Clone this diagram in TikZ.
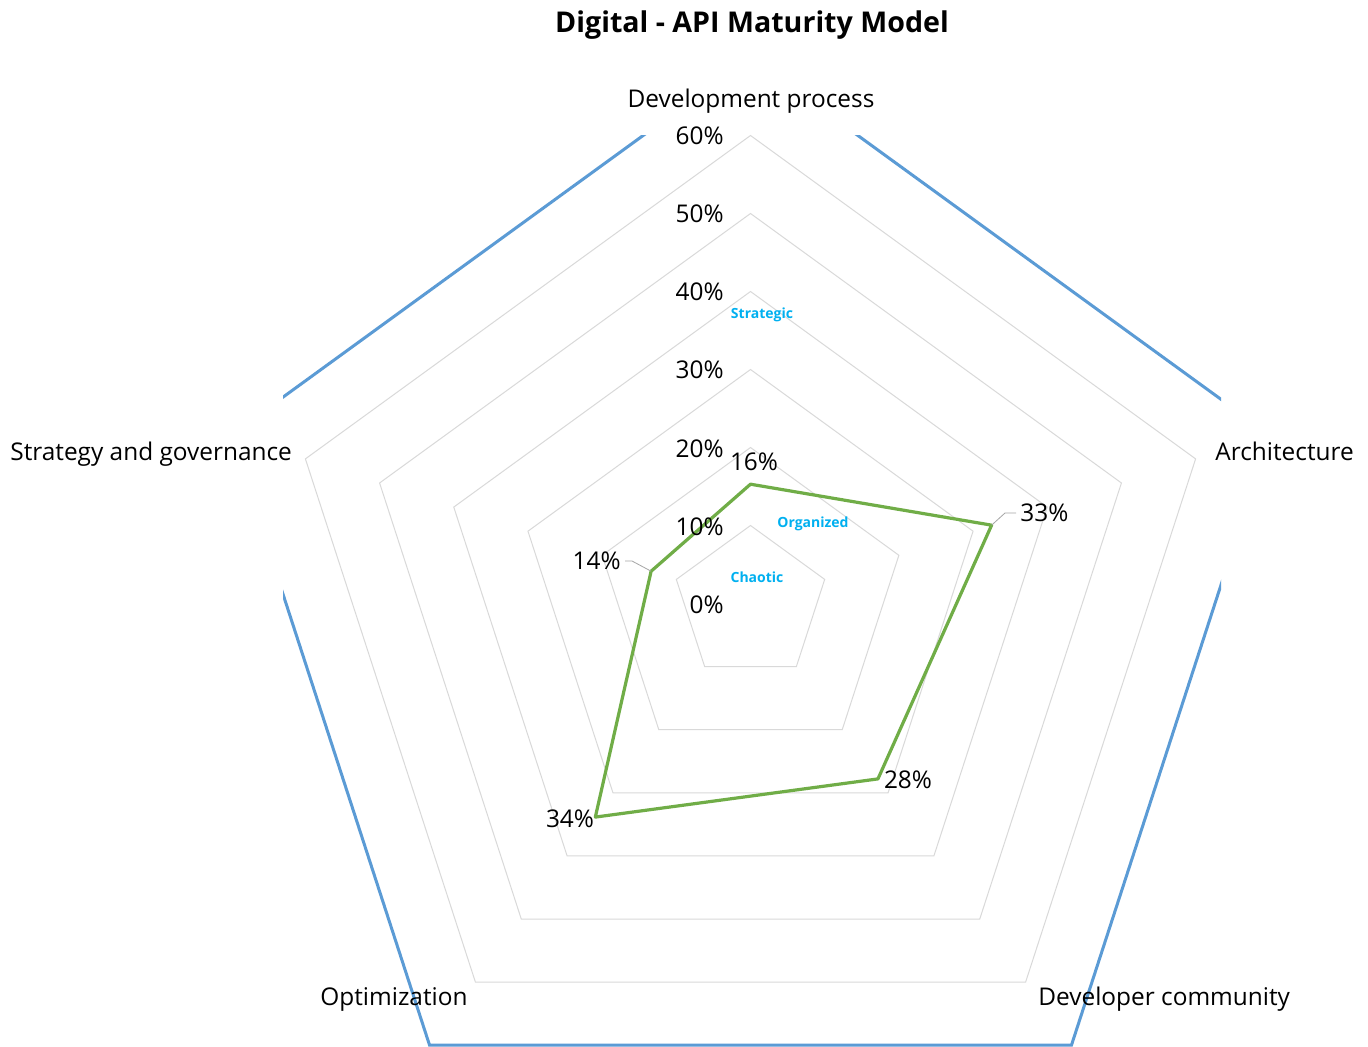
\documentclass[tikz,border=0pt]{standalone}
\usepackage{fontspec}
\setmainfont{Open Sans}
\definecolor{gridc}{HTML}{D9D9D9}
\definecolor{bluec}{HTML}{5B9BD5}
\definecolor{greenc}{HTML}{70AD47}
\definecolor{cyanc}{HTML}{00B0F0}
\definecolor{leadc}{HTML}{A6A6A6}
\tikzset{
  gridline/.style={draw=gridc, line width=0.5pt, line join=miter},
  levelline/.style={draw=bluec, line width=1.5pt, line join=miter},
  series/.style={draw=greenc, line width=1.6pt, line join=round},
  leader/.style={draw=leadc, line width=0.4pt},
  lbl/.style={inner sep=0pt, font=\fontsize{12.2}{14}\selectfont},
  ttl/.style={inner sep=0pt, font=\fontsize{14.3}{16}\selectfont\bfseries},
  lvl/.style={inner sep=0pt, text=cyanc, font=\fontsize{7}{8}\selectfont\bfseries},
}
\begin{document}
\begin{tikzpicture}[x=0.5pt,y=-0.5pt]
\useasboundingbox (0,0) rectangle (1368,1047);
\fill[white] (0,0) rectangle (1368,1047);
% grid pentagons
\begin{scope}[shift={(750.5,603.5)}]
\foreach \l in {1,...,6}{
  \draw[gridline] (-90:{\l*78}) -- (-18:{\l*78}) -- (54:{\l*78}) -- (126:{\l*78}) -- (198:{\l*78}) -- cycle;
}
\end{scope}
% level series (clipped by plot area)
\begin{scope}
\clip (283,136) rectangle (1221,1047);
\begin{scope}[shift={(750.5,603.5)}]
\draw[levelline] (-90:546) -- (-18:546) -- (54:546) -- (126:546) -- (198:546) -- cycle;
\end{scope}
\end{scope}
% data series
\begin{scope}[shift={(750.5,603.5)}]
\coordinate (dp) at (-90:119.3);
\coordinate (ar) at (-18:253.5);
\coordinate (dc) at (54:216.8);
\coordinate (op) at (126:264);
\coordinate (sg) at (198:104.5);
\end{scope}
\draw[series] (dp) -- (ar) -- (dc) -- (op) -- (sg) -- cycle;
% title and category labels
\node[ttl, anchor=base] (title) at (752,33) {Digital - API Maturity Model};
\node[lbl, anchor=base] (cdp) at (751,108) {Development process};
\node[lbl, anchor=base west] (car) at (1215,460.5) {Architecture};
\node[lbl, anchor=base west] (cdc) at (1038,1005.5) {Developer community};
\node[lbl, anchor=base west] (cop) at (320,1005.5) {Optimization};
\node[lbl, anchor=base west] (csg) at (10,460.5) {Strategy and governance};
% axis labels
\foreach \v/\yy in {60/145,50/223,40/301,30/379,20/457,10/535,0/613}{
  \node[lbl, anchor=base east] (ax\v) at (724,\yy) {\v\%};
}
% level labels
\node[lvl, anchor=base] (lstr) at (762,318.5) {Strategic};
\node[lvl, anchor=base] (lorg) at (813,527) {Organized};
\node[lvl, anchor=base] (lcha) at (757,582) {Chaotic};
% data labels
\node[lbl, anchor=base] (vdp) at (754,470.5) {16\%};
\node[lbl, anchor=base west] (var) at (1020,521.5) {33\%};
\node[lbl, anchor=base] (vdc) at (908,788.5) {28\%};
\node[lbl, anchor=base] (vop) at (570,827.5) {34\%};
\node[lbl, anchor=base east] (vsg) at (621,569.5) {14\%};
\draw[leader] (ar) -- (1005,513) -- (1016,513);
\draw[leader] (sg) -- (632,561) -- (625,561);
\end{tikzpicture}
\end{document}
